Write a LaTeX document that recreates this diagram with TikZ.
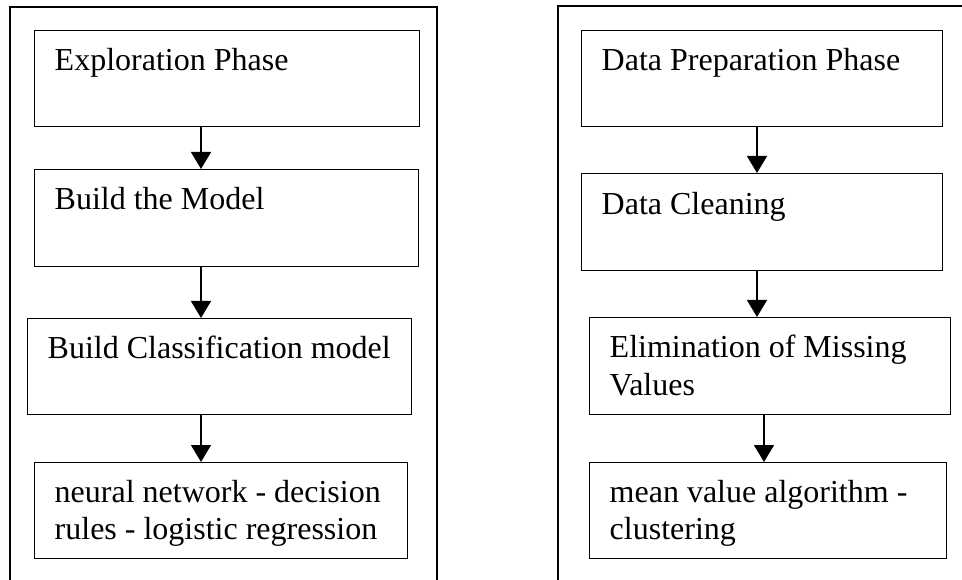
\documentclass[tikz,border=0pt]{standalone}
\usepackage{fontspec}
\setmainfont{Liberation Serif}
\usetikzlibrary{arrows.meta}
% two stacked lines whose reference point is the first baseline
\newcommand{\twoln}[2]{\vtop{\hbox{#1}\hbox{#2}}}
\tikzset{
  stepbox/.style={draw, line width=1.3pt, rectangle, inner sep=0pt, anchor=north west},
  lbl/.style={anchor=base west, inner sep=0pt, font=\fontsize{32}{37}\selectfont},
  flow/.style={line width=1.3pt, -{Triangle[length=17pt,width=20pt]}},
  frame/.style={line width=1.3pt}
}
\begin{document}
\begin{tikzpicture}[x=1pt,y=-1pt]
\useasboundingbox (0,0) rectangle (962,580);

% outer frames
\draw[frame] (10,580) -- (10,7) -- (437,7) -- (437,580);
\draw[frame] (558,580) -- (558,6) -- (962,6);

% arrow columns
\coordinate (lx) at (201,0);
\coordinate (rx) at (757,0);
\coordinate (rx2) at (764,0);

% exploration column
\node[stepbox, minimum width=385pt, minimum height=96pt] (b1) at (34,30) {};
\node[stepbox, minimum width=384pt, minimum height=97pt] (b2) at (34,169) {};
\node[stepbox, minimum width=384pt, minimum height=96pt] (b3) at (27,318) {};
\node[stepbox, minimum width=373pt, minimum height=96pt] (b4) at (34,462) {};

\node[lbl] (t1) at ([shift={(20.5,41)}]b1.north west) {Exploration Phase};
\node[lbl] (t2) at ([shift={(20.5,41)}]b2.north west) {Build the Model};
\node[lbl] (t3) at ([shift={(20.5,41)}]b3.north west) {Build Classification model};
\node[lbl] (t4) at ([shift={(20.5,40)}]b4.north west) {\twoln{neural network - decision}{rules - logistic regression}};

\draw[flow] (b1.south -| lx) -- (b2.north -| lx);
\draw[flow] (b2.south -| lx) -- (b3.north -| lx);
\draw[flow] (b3.south -| lx) -- (b4.north -| lx);

% data preparation column
\node[stepbox, minimum width=361pt, minimum height=96pt] (c1) at (581,30) {};
\node[stepbox, minimum width=361pt, minimum height=97pt] (c2) at (581,173) {};
\node[stepbox, minimum width=361pt, minimum height=97pt] (c3) at (589,317) {};
\node[stepbox, minimum width=357pt, minimum height=96pt] (c4) at (589,462) {};

\node[lbl] (u1) at ([shift={(20.5,41)}]c1.north west) {Data Preparation Phase};
\node[lbl] (u2) at ([shift={(20.5,42)}]c2.north west) {Data Cleaning};
\node[lbl] (u3) at ([shift={(20.5,41)}]c3.north west) {\twoln{Elimination of Missing}{Values}};
\node[lbl] (u4) at ([shift={(20.5,40)}]c4.north west) {\twoln{mean value algorithm -}{clustering}};

\draw[flow] (c1.south -| rx) -- (c2.north -| rx);
\draw[flow] (c2.south -| rx) -- (c3.north -| rx);
\draw[flow] (c3.south -| rx2) -- (c4.north -| rx2);
\end{tikzpicture}
\end{document}
